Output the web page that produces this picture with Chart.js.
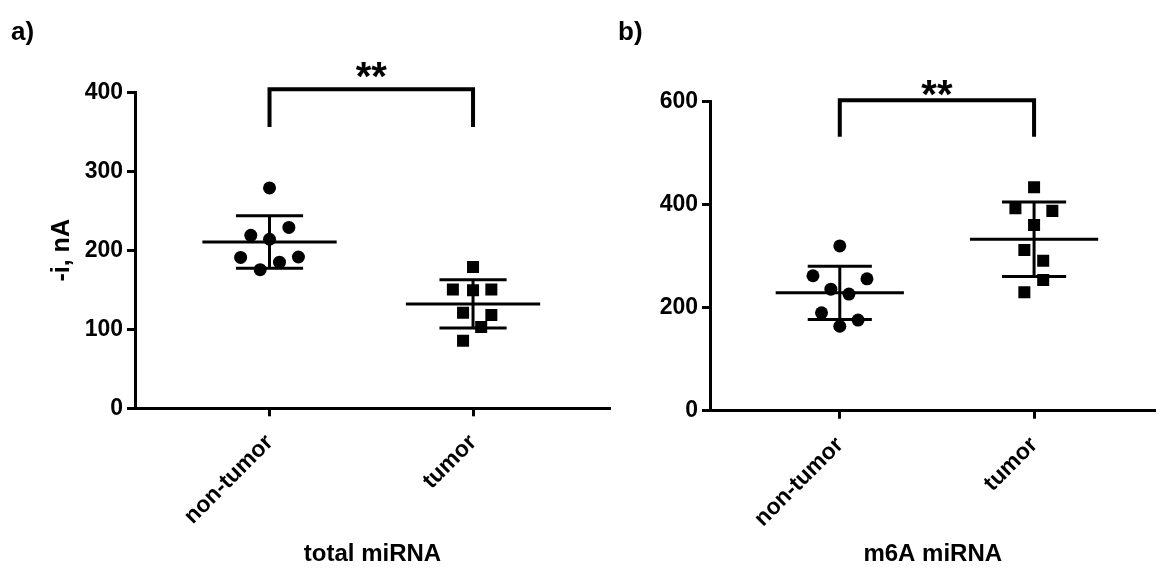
<!DOCTYPE html>
<html><head><meta charset="utf-8">
<script src="https://cdn.jsdelivr.net/npm/chart.js@4.4.0/dist/chart.umd.min.js"></script>
<style>
html,body{margin:0;padding:0;background:#fff;}
body{width:1164px;height:570px;position:relative;overflow:hidden;}
canvas{position:absolute;top:0;}
#ca{left:0;}
#cb{left:610px;}
</style></head><body>
<canvas id="ca" width="620" height="570"></canvas>
<canvas id="cb" width="554" height="570"></canvas>
<script>
// ---------- data ----------
const categories = ['non-tumor', 'tumor'];
const totalNonTumor = [279, 229, 219, 214, 191.5, 191, 185, 175.5];
const totalTumor    = [179, 150.5, 149.5, 150.5, 121, 118, 103, 85.5];
const m6aNonTumor   = [320, 262, 256, 236, 226.5, 190, 176, 164];
const m6aTumor      = [434, 393, 388, 360.5, 312, 291, 254, 230];
const yTicksA = [0, 100, 200, 300, 400];
const yTicksB = [0, 200, 400, 600];
const bracketA = [356, 404];   // [bottom of legs, top bar]
const bracketB = [532, 603];
const signifText = '**';
// horizontal spread of the scattered points (category units)
const spreadTotalNonTumor = [0, 0.095, -0.092, 0, 0.142, -0.142, 0.049, -0.046];
const spreadTotalTumor    = [0, -0.099, 0, 0.09, -0.049, 0.09, 0.04, -0.049];
const spreadM6aNonTumor   = [0, -0.138, 0.14, -0.046, 0.047, -0.094, 0.094, 0];
const spreadM6aTumor      = [0, -0.096, 0.094, 0, -0.05, 0.047, 0.047, -0.05];

// ---------- helpers ----------
const FONT = '"Liberation Sans", Arial, Helvetica, sans-serif';
function mean(a){ return a.reduce((s,v)=>s+v,0)/a.length; }
function sd(a){ const m=mean(a); return Math.sqrt(a.reduce((s,v)=>s+(v-m)*(v-m),0)/(a.length-1)); }
function summary(vals, i){
  const m=mean(vals), s=sd(vals), W=0.33, w=0.165;
  return [
    {x:i-W,y:m},{x:i+W,y:m},{x:i,y:null},
    {x:i-w,y:m+s},{x:i+w,y:m+s},{x:i,y:null},
    {x:i-w,y:m-s},{x:i+w,y:m-s},{x:i,y:null},
    {x:i,y:m-s},{x:i,y:m+s}
  ];
}
function points(vals, spread, i){ return vals.map((v,k)=>({x:i+spread[k], y:v})); }

const annot = {
  id:'annot',
  afterDatasetsDraw(chart, args, o){
    const ctx=chart.ctx, xs=chart.scales.x, ys=chart.scales.y;
    ctx.save();
    ctx.fillStyle='#000';
    ctx.font='bold 40px '+FONT;
    ctx.textAlign='center'; ctx.textBaseline='alphabetic';
    const cx=(xs.getPixelForValue(0)+xs.getPixelForValue(1))/2;
    const yTop=ys.getPixelForValue(o.bracket[1]);
    ctx.fillText(signifText, cx, yTop - o.starGap + 0.575*40);
    ctx.font='bold 26px '+FONT;
    ctx.textAlign='left';
    ctx.fillText(o.label, o.labelX, 40);
    ctx.restore();
  }
};

function makeChart(id, c){
  const ds = [
    {type:'scatter', data:points(c.g0, c.s0, 0), pointStyle:'circle', pointRadius:6.5, backgroundColor:'#000', borderWidth:0},
    {type:'scatter', data:points(c.g1, c.s1, 1), pointStyle:'rect', pointRadius:8.5, backgroundColor:'#000', borderWidth:0},
    {type:'line', data:summary(c.g0,0), borderColor:'#000', borderWidth:3, pointRadius:0, spanGaps:false, tension:0, fill:false, borderCapStyle:'butt'},
    {type:'line', data:summary(c.g1,1), borderColor:'#000', borderWidth:3, pointRadius:0, spanGaps:false, tension:0, fill:false, borderCapStyle:'butt'},
    {type:'line', data:[{x:0,y:c.bracket[0]},{x:0,y:c.bracket[1]},{x:1,y:c.bracket[1]},{x:1,y:c.bracket[0]}],
      borderColor:'#000', borderWidth:4, pointRadius:0, tension:0, fill:false, clip:false, borderJoinStyle:'miter', borderCapStyle:'butt'}
  ];
  return new Chart(document.getElementById(id), {
    type:'scatter',
    data:{datasets:ds},
    plugins:[annot],
    options:{
      responsive:false, animation:false, devicePixelRatio:1,
      layout:{padding:{top:c.padTop, right:c.padRight, left:0, bottom:0}},
      plugins:{legend:{display:false}, tooltip:{enabled:false},
        annot:{bracket:c.bracket, starGap:c.starGap, label:c.label, labelX:c.labelX}},
      scales:{
        x:{type:'linear', min:c.xMin, max:c.xMax, bounds:'data',
          afterBuildTicks:s=>{ s.ticks = categories.map((n,i)=>({value:i})); },
          afterFit:s=>{ s.height = c.xHeight; },
          ticks:{callback:v=>categories[v] ?? '', minRotation:45, maxRotation:45, autoSkip:false,
            color:'#000', padding:13, font:{family:FONT, size:23, weight:'bold'}},
          grid:{display:true, drawOnChartArea:false, drawTicks:true, tickLength:8, tickWidth:3, tickColor:'#000', color:'#000'},
          border:{display:true, width:3, color:'#000'},
          title:{display:true, text:c.xTitle, color:'#000', font:{family:FONT, size:24, weight:'bold'}, padding:{top:0, bottom:1}}
        },
        y:{type:'linear', min:0, max:c.yTicks[c.yTicks.length-1], bounds:'data',
          afterBuildTicks:s=>{ s.ticks = c.yTicks.map(v=>({value:v})); },
          afterFit:s=>{ s.width = c.yWidth; },
          ticks:{color:'#000', padding:4, font:{family:FONT, size:23, weight:'bold'}},
          grid:{display:true, drawOnChartArea:false, drawTicks:true, tickLength:8, tickWidth:3, tickColor:'#000', color:'#000'},
          border:{display:true, width:3, color:'#000'},
          title:{display:!!c.yTitle, text:c.yTitle || '', color:'#000', font:{family:FONT, size:25, weight:'bold'}, padding:{top:47, bottom:0}}
        }
      }
    }
  });
}

makeChart('ca', {g0:totalNonTumor, g1:totalTumor, s0:spreadTotalNonTumor, s1:spreadTotalTumor,
  yTicks:yTicksA, bracket:bracketA, starGap:22, label:'a)', labelX:11,
  xMin:-0.661, xMax:1.673, padTop:92.3, padRight:10, yWidth:135, xHeight:161.7,
  xTitle:'total miRNA', yTitle:'-i, nA'});
makeChart('cb', {g0:m6aNonTumor, g1:m6aTumor, s0:spreadM6aNonTumor, s1:spreadM6aTumor,
  yTicks:yTicksB, bracket:bracketB, starGap:15.5, label:'b)', labelX:8,
  xMin:-0.668, xMax:1.625, padTop:101.7, padRight:0, yWidth:100, xHeight:159.3,
  xTitle:'m6A miRNA', yTitle:''});
</script>
</body></html>
